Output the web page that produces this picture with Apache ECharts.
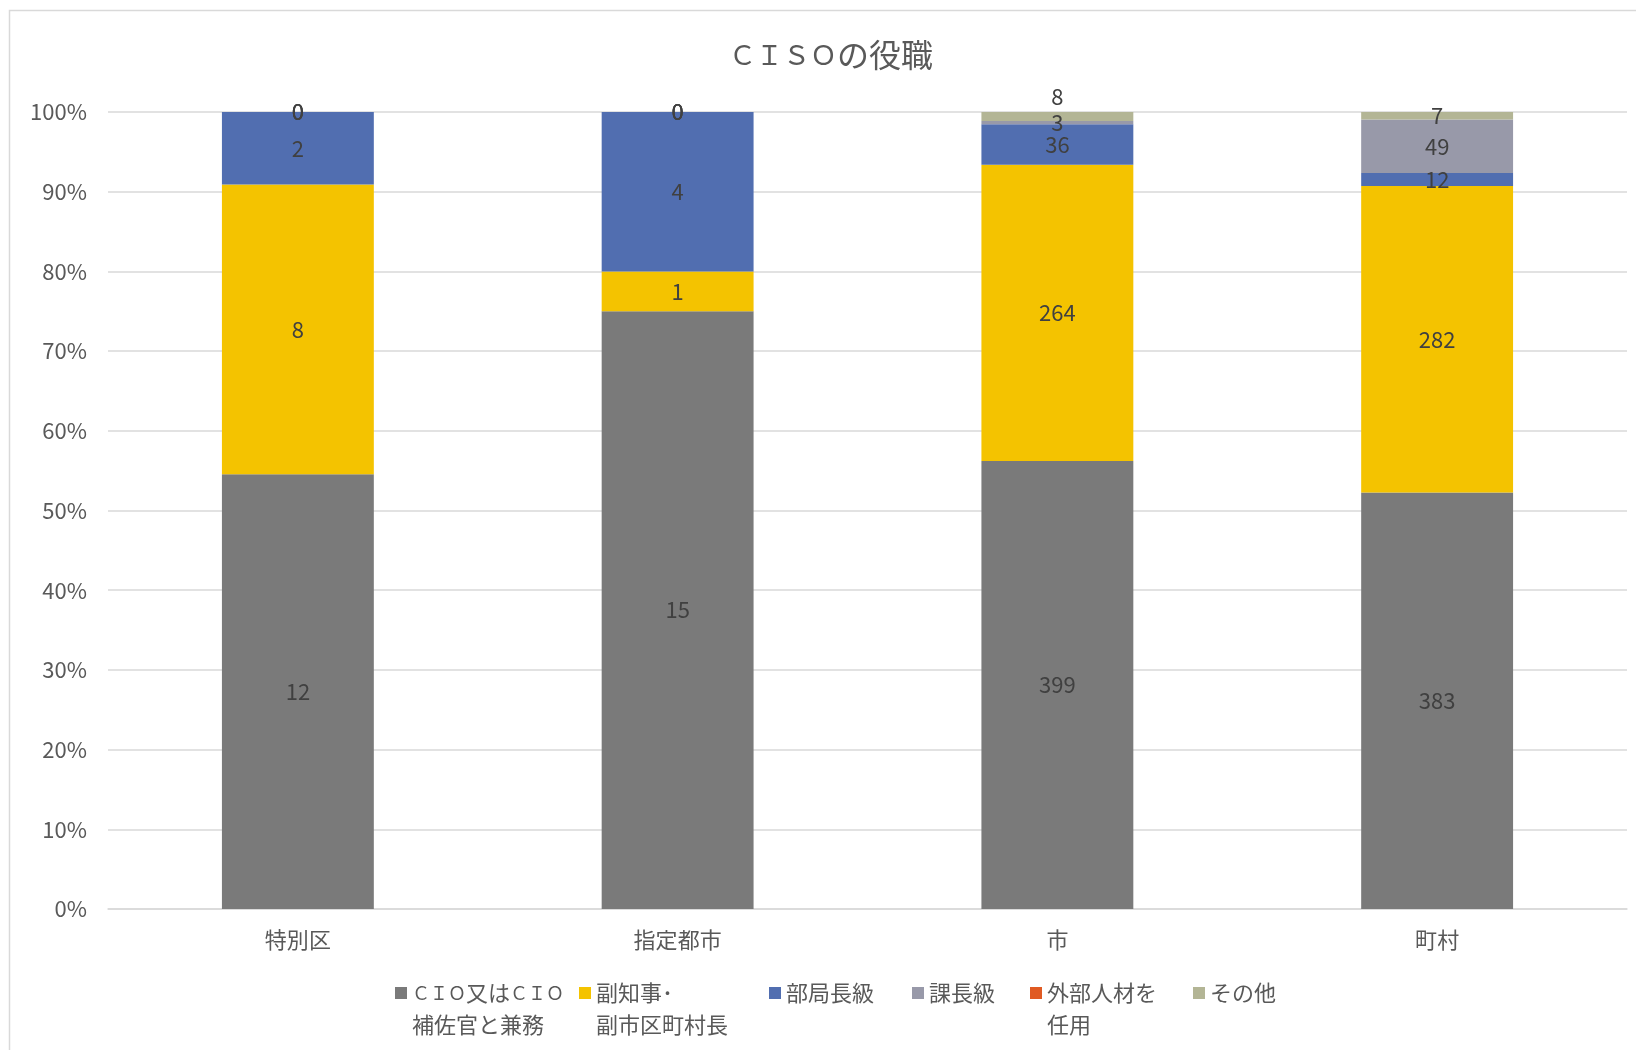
<!DOCTYPE html>
<html><head><meta charset="utf-8">
<script src="https://cdn.jsdelivr.net/npm/echarts@6/dist/echarts.min.js"></script>
<style>html,body{margin:0;padding:0;background:#fff}#c{width:1636px;height:1050px}</style>
</head><body><div id="c"></div>
<script>
const categories = ['特別区', '指定都市', '市', '町村'];
const seriesNames = ['ＣＩＯ又はＣＩＯ\n補佐官と兼務', '副知事･\n副市区町村長', '部局長級', '課長級', '外部人材を\n任用', 'その他'];
const cioKenmu = [12, 15, 399, 383];
const fukuchiji = [8, 1, 264, 282];
const bukyoku = [2, 4, 36, 12];
const kacho = [0, 0, 3, 49];
const gaibu = [0, 0, 0, 0];
const sonota = [0, 0, 8, 7];
const yTicks = [0, 10, 20, 30, 40, 50, 60, 70, 80, 90, 100];
const titleText = 'ＣＩＳＯの役職';

const colors = ['#7a7a7a', '#f4c300', '#516eb0', '#9899a9', '#e05a22', '#b3b595'];
const allData = [cioKenmu, fukuchiji, bukyoku, kacho, gaibu, sonota];
const totals = categories.map((_, i) => allData.reduce((s, arr) => s + arr[i], 0));

const font = '"Noto Sans CJK JP", "Noto Sans", sans-serif';
const labelStyle = { show: true, position: 'inside', color: '#404040', fontSize: 22, fontFamily: font, formatter: p => p.data.count };

// wrap full-width Latin runs in a narrower rich style (the reference font sets them narrow)
function richify(s) {
  return s.split('\n').map(line =>
    line.replace(/([Ａ-Ｚ]+)|([^Ａ-Ｚ]+)/g, (m, lat, oth) => lat ? '{l|' + lat + '}' : '{j|' + oth + '}')
  ).join('\n');
}

const series = allData.map((arr, si) => ({
  name: seriesNames[si],
  type: 'bar',
  stack: 'total',
  barCategoryGap: '60%',
  itemStyle: { color: colors[si] },
  label: labelStyle,
  data: arr.map((v, i) => {
    const item = { value: v / totals[i] * 100, count: v };
    if (si === 4 && i >= 2) item.label = { show: false };
    if (si === 5 && i === 2) item.label = { position: 'top', distance: 4 };
    return item;
  })
}));

const tallIcon = 'path://M0,0H12V12H0Z M0,43.99H0.01V44H0Z';
const legendX = [395, 579, 769, 912, 1030, 1193];
const legends = seriesNames.map((n, i) => {
  const multi = n.indexOf('\n') >= 0;
  return {
    data: [{ name: n, icon: multi ? tallIcon : 'rect' }],
    left: legendX[i],
    top: 977,
    padding: 0,
    itemWidth: 12,
    itemHeight: multi ? 44 : 12,
    selectedMode: false,
    formatter: name => richify(name),
    textStyle: {
      color: '#595959', fontSize: 22, fontFamily: font, lineHeight: 32,
      rich: {
        l: { color: '#595959', fontSize: 18, fontFamily: font, lineHeight: 32 },
        j: { color: '#595959', fontSize: 22, fontFamily: font, lineHeight: 32 }
      }
    }
  };
});

const chart = echarts.init(document.getElementById('c'));
chart.setOption({
  animation: false,
  backgroundColor: '#fff',
  title: {
    text: richify(titleText),
    left: 826, textAlign: 'center', top: 30,
    textStyle: {
      color: '#595959', fontSize: 32, fontWeight: 'normal', fontFamily: font,
      rich: {
        l: { color: '#595959', fontSize: 27, fontFamily: font, lineHeight: 40 },
        j: { color: '#595959', fontSize: 32, fontFamily: font, lineHeight: 40 }
      }
    }
  },
  graphic: [{
    type: 'rect', silent: true,
    shape: { x: 9.5, y: 10.5, width: 1700, height: 1100 },
    style: { fill: 'none', stroke: '#d9d9d9', lineWidth: 1.5 }
  }],
  legend: legends,
  grid: { left: 108, right: 9, top: 112, bottom: 141, outerBoundsMode: 'none' },
  xAxis: {
    type: 'category',
    data: categories,
    axisLine: { show: true, lineStyle: { color: '#d9d9d9', width: 1.5 } },
    axisTick: { show: false },
    axisLabel: { color: '#595959', fontSize: 22, fontFamily: font, margin: 20 }
  },
  yAxis: {
    type: 'value', min: yTicks[0], max: yTicks[yTicks.length - 1], interval: yTicks[1] - yTicks[0],
    axisLine: { show: false }, axisTick: { show: false },
    splitLine: { lineStyle: { color: '#d9d9d9', width: 1.5 } },
    axisLabel: { color: '#595959', fontSize: 22, fontFamily: font, margin: 21, formatter: '{value}%' }
  },
  series: series
});
</script></body></html>
